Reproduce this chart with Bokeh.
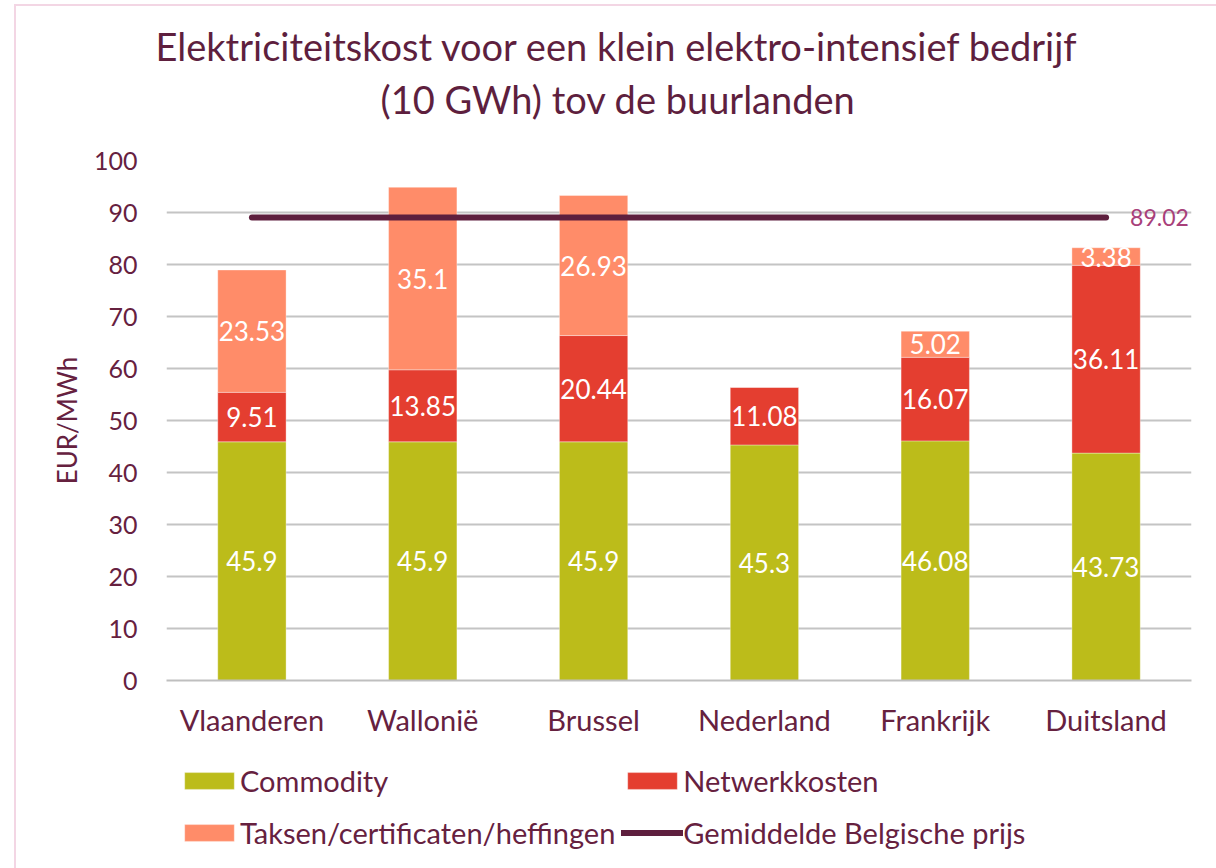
import numpy as np
from bokeh.plotting import figure
from bokeh.layouts import column
from bokeh.models import (ColumnDataSource, LabelSet, Legend, LegendItem,
                          FixedTicker, FactorRange, Range1d, Title)
from bokeh.core.properties import value
from bokeh.embed import file_html
from bokeh.resources import INLINE

# ---- data ----
categories = ["Vlaanderen", "Wallonië", "Brussel", "Nederland", "Frankrijk", "Duitsland"]
commodity = [45.9, 45.9, 45.9, 45.3, 46.08, 43.73]
netwerk = [9.51, 13.85, 20.44, 11.08, 16.07, 36.11]
taksen = [23.53, 35.1, 26.93, 0.0, 5.02, 3.38]
belgian_avg = 89.02
series_names = ["Commodity", "Netwerkkosten", "Taksen/certificaten/heffingen"]
avg_name = "Gemiddelde Belgische prijs"
y_ticks = [0, 10, 20, 30, 40, 50, 60, 70, 80, 90, 100]

title_line1 = "Elektriciteitskost voor een klein elektro-intensief bedrijf"
title_line2 = "(10 GWh) tov de buurlanden"

# ---- style ----
FONT = "Lato"
MAROON = "#5E1F3E"
TEXT = "#66213F"
COLORS = ["#BCBC1A", "#E43E30", "#FF8C69"]
GRID = "#C4C4C4"
FRAME = "#F3D6E4"

source = ColumnDataSource(dict(cat=categories, commodity=commodity,
                               netwerk=netwerk, taksen=taksen))
avg_line = dict(x=[categories[0], categories[-1]], y=[belgian_avg, belgian_avg])

p = figure(width=1200, height=744, x_range=FactorRange(*categories, range_padding=0),
           y_range=Range1d(0, 100), output_backend="svg", toolbar_location=None,
           min_border_left=150, min_border_right=25, min_border_top=154,
           min_border_bottom=70)
p.outline_line_color = None
p.background_fill_color = "white"
p.border_fill_color = "white"

p.title.text = title_line1
p.title.align = "left"
p.title.offset = -11
p.title.text_font = FONT
p.title.text_font_size = "38px"
p.title.text_font_style = "normal"
p.title.text_color = MAROON
p.title.standoff = -69
p.add_layout(Title(text=title_line2, align="left", offset=214, text_font=FONT,
                   text_font_size="38px", text_font_style="normal",
                   text_color=MAROON, standoff=78), "above")

renderers = p.vbar_stack(["commodity", "netwerk", "taksen"], x="cat", width=0.4,
                         fill_color=COLORS, line_color="white", line_alpha=0.35,
                         line_width=1, source=source)

p.line(x=avg_line["x"], y=avg_line["y"], line_color=MAROON, line_width=6,
       line_cap="round")

# data labels
c = np.array(commodity)
n = np.array(netwerk)
t = np.array(taksen)
lab_x, lab_y, lab_t = [], [], []
for i, cat in enumerate(categories):
    for base, val in ((0, c[i]), (c[i], n[i]), (c[i] + n[i], t[i])):
        if val > 0:
            lab_x.append(cat)
            lab_y.append(base + val / 2)
            lab_t.append(f"{val:g}")
lab_src = ColumnDataSource(dict(x=lab_x, y=lab_y, t=lab_t))
p.add_layout(LabelSet(x="x", y="y", text="t", source=lab_src, text_align="center",
                      text_baseline="middle", text_color="white",
                      text_font=value(FONT), text_font_size="26px"))

avg_src = ColumnDataSource(dict(x=[categories[-1]], y=[belgian_avg],
                                t=[f"{belgian_avg:.2f}"]))
p.add_layout(LabelSet(x="x", y="y", text="t", source=avg_src, x_offset=24,
                      text_align="left", text_baseline="middle",
                      text_color="#A8407A", text_font=value(FONT),
                      text_font_size="23px"))

# axes
p.yaxis.ticker = FixedTicker(ticks=y_ticks)
p.yaxis.axis_line_color = None
p.yaxis.major_tick_line_color = None
p.yaxis.minor_tick_line_color = None
p.yaxis.major_label_text_font = FONT
p.yaxis.major_label_text_font_size = "25px"
p.yaxis.major_label_text_color = TEXT
p.yaxis.major_label_standoff = 23
p.yaxis.axis_label = "EUR/MWh"
p.yaxis.axis_label_text_font = FONT
p.yaxis.axis_label_text_font_size = "26px"
p.yaxis.axis_label_text_font_style = "normal"
p.yaxis.axis_label_text_color = TEXT
p.yaxis.axis_label_standoff = 8

p.xaxis.axis_line_color = "#BFBFBF"
p.xaxis.axis_line_width = 2
p.xaxis.major_tick_line_color = None
p.xaxis.minor_tick_line_color = None
p.xaxis.major_label_text_font = FONT
p.xaxis.major_label_text_font_size = "29px"
p.xaxis.major_label_text_color = TEXT
p.xaxis.major_label_standoff = 15

p.xgrid.grid_line_color = None
p.ygrid.grid_line_color = GRID
p.ygrid.grid_line_width = 2

# legend strip below the chart: same series, drawn out of view so only
# their legend swatches show
q = figure(width=1200, height=118, x_range=FactorRange(*categories),
           y_range=Range1d(1000, 1001), output_backend="svg",
           toolbar_location=None, x_axis_location=None, y_axis_location=None,
           min_border=0)
q.outline_line_color = None
q.xgrid.grid_line_color = None
q.ygrid.grid_line_color = None
leg_bars = q.vbar_stack(["commodity", "netwerk", "taksen"], x="cat", width=0.4,
                        fill_color=COLORS, line_color="white", line_alpha=0.35,
                        line_width=1, source=source)
leg_line = q.line(x=avg_line["x"], y=avg_line["y"], line_color=MAROON,
                  line_width=6, line_cap="round")

items = [LegendItem(label=series_names[0], renderers=[leg_bars[0]]),
         LegendItem(label=series_names[1], renderers=[leg_bars[1]]),
         LegendItem(label=series_names[2], renderers=[leg_bars[2]]),
         LegendItem(label=avg_name, renderers=[leg_line])]
legend = Legend(items=items, orientation="horizontal", ncols=2,
                location=(12, 13), padding=0, margin=0, spacing=6,
                glyph_width=62, glyph_height=21, label_height=46,
                label_standoff=0, label_text_font=FONT,
                label_text_font_size="29px", label_text_color=TEXT,
                border_line_color=None, background_fill_alpha=0)
q.add_layout(legend, "center")

layout = column(p, q, spacing=0,
                styles={"margin-left": "14px", "margin-top": "4px",
                        "border-left": f"2px solid {FRAME}",
                        "border-top": f"2px solid {FRAME}"})

open("out.html", "w").write(file_html(layout, INLINE))
